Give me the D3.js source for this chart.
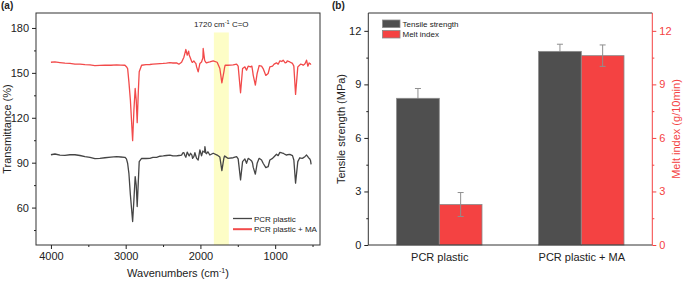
<!DOCTYPE html>
<html><head><meta charset="utf-8">
<script src="https://cdn.jsdelivr.net/npm/d3@7/dist/d3.min.js"></script>
<style>
body{margin:0;background:#fff;}
svg{display:block;font-family:"Liberation Sans",Arial,sans-serif;}
</style></head>
<body><svg id="c" width="685" height="281"></svg>
<script>
// ---------- Panel (a) data: FTIR spectra ----------
const wavenumbers = [4000,3947,3880,3813,3746,3679,3612,3545,3478,3412,3345,3278,3198,3121,3064,3010,2990,2974,2957,2937,2907,2890,2873,2859,2846,2830,2819,2787,2729,2676,2636,2586,2542,2498,2455,2409,2368,2319,2288,2252,2235,2221,2208,2195,2177,2158,2150,2132,2114,2105,2088,2074,2061,2051,2030,2007,1985,1967,1963,1944,1940,1927,1918,1900,1874,1829,1776,1740,1713,1686,1677,1669,1633,1562,1516,1495,1463,1436,1405,1383,1361,1329,1312,1302,1294,1265,1241,1214,1182,1161,1125,1094,1071,1035,1014,982,960,937,911,893,866,848,840,804,768,750,727,697,670,661,634,626,603,599,580,563,554,546,536,527,519];
const pcrPlastic = [95.3,95.8,95.1,94.9,95.3,95.3,94.8,94.0,93.5,92.7,92.9,93.3,93.7,94.0,93.8,93.6,92.5,89.6,82.9,68.5,50.7,65.1,80.7,75.1,60.7,78.5,90.7,92.9,92.8,92.9,93.5,93.6,94.3,94.5,94.8,95.1,94.5,94.5,94.8,95.1,96.5,96.7,94.8,93.6,97.1,95.2,94.5,96.3,95.0,92.9,94.0,96.7,94.5,92.9,91.8,98.5,94.5,97.8,97.5,97.0,100.7,96.3,96.0,97.3,95.1,96.3,95.1,93.8,84.7,93.0,94.5,94.2,92.9,93.3,94.0,92.5,78.5,90.7,92.5,89.6,92.9,91.8,91.0,89.6,87.0,82.3,89.6,92.9,91.8,89.6,86.7,87.3,91.8,92.9,94.0,95.6,94.7,96.9,96.5,96.3,95.5,95.1,95.3,95.6,94.7,91.8,76.3,90.7,93.3,93.0,92.9,93.2,94.0,94.2,95.1,94.0,93.3,93.0,92.5,91.5,88.9];
const pcrPlasticMA = [157.1,157.3,156.9,156.5,156.4,155.8,155.9,155.5,155.3,154.9,155.0,155.1,155.1,155.3,155.2,155.1,154.1,152.9,144.0,131.8,104.7,125.0,139.6,131.8,116.7,138.5,150.7,155.1,155.5,155.6,155.8,156.0,156.2,156.3,156.5,156.8,156.6,156.7,155.8,157.1,159.0,160.5,163.0,165.6,161.8,164.5,162.0,159.6,157.3,157.0,158.0,157.0,156.3,154.0,150.7,156.3,157.3,160.0,166.3,158.5,158.0,157.0,156.7,157.0,157.3,158.0,157.1,152.9,143.3,150.7,153.5,155.1,155.1,155.3,155.8,154.5,136.7,152.9,154.0,151.8,154.5,154.0,154.5,151.5,148.5,141.8,149.6,154.9,154.5,152.9,148.3,149.6,154.0,154.5,155.8,156.7,155.8,158.0,157.6,158.5,156.7,157.0,158.0,157.3,156.3,154.5,135.6,154.0,155.3,155.8,155.5,155.1,156.0,156.3,158.5,154.5,155.5,156.7,156.2,155.8,156.0];
const seriesNames = ["PCR plastic","PCR plastic + MA"];
const xTicksA = [4000,3000,2000,1000];
const yTicksA = [60,90,120,150,180];
const bandRange = [1820,1620];   // highlighted C=O region (cm-1)
const bandTop = 177;
// ---------- Panel (b) data ----------
const samples = ["PCR plastic","PCR plastic + MA"];
const tensileStrength = [8.22,10.85];
const tensileErr = [0.55,0.40];
const meltIndex = [2.27,10.61];
const meltErr = [0.67,0.60];
const yTicksB = [0,3,6,9,12];

const svg = d3.select("#c");
const FONT = 11;
const DARK = "#454545", RED = "#f24a4a", BAR_DARK = "#4f4f4f", BAR_RED = "#f44242";

// ===== Panel (a) =====
const L = {l:36, r:320, t:13, b:245};
const xA = d3.scaleLinear().domain([4200,400]).range([L.l,L.r]);
const yA = d3.scaleLinear().domain([35,190]).range([L.b,L.t]);

svg.append("rect").attr("x",xA(bandRange[0])).attr("y",yA(bandTop))
  .attr("width",xA(bandRange[1])-xA(bandRange[0])).attr("height",L.b-yA(bandTop))
  .attr("fill","#fdfdc6");

const line = d3.line().x((d,i)=>xA(wavenumbers[i])).y(d=>yA(d));
svg.append("path").datum(pcrPlastic).attr("d",line).attr("fill","none").attr("stroke",DARK).attr("stroke-width",1.3).attr("stroke-linejoin","round");
svg.append("path").datum(pcrPlasticMA).attr("d",line).attr("fill","none").attr("stroke",RED).attr("stroke-width",1.3).attr("stroke-linejoin","round");

svg.append("rect").attr("x",L.l).attr("y",L.t).attr("width",L.r-L.l).attr("height",L.b-L.t).attr("fill","none").attr("stroke","#333").attr("stroke-width",1);

function styleAxis(g,color){
  g.select(".domain").remove();
  g.selectAll(".tick line").attr("stroke",color);
  g.selectAll(".tick text").attr("fill",color).attr("font-size",FONT).attr("font-family","Liberation Sans, Arial, sans-serif");
}
const gxA = svg.append("g").attr("transform",`translate(0,${L.b})`)
  .call(d3.axisBottom(xA).tickValues(xTicksA).tickSize(4).tickPadding(3).tickFormat(d3.format("d")));
styleAxis(gxA,"#222");
svg.append("g").attr("transform",`translate(0,${L.b})`)
  .call(d3.axisBottom(xA).tickValues(d3.range(3500,400,-1000)).tickSize(2).tickFormat(""))
  .call(g=>{g.select(".domain").remove();g.selectAll("line").attr("stroke","#222");});
const gyA = svg.append("g").attr("transform",`translate(${L.l},0)`)
  .call(d3.axisLeft(yA).tickValues(yTicksA).tickSize(4).tickPadding(3));
styleAxis(gyA,"#222");
svg.append("g").attr("transform",`translate(${L.l},0)`)
  .call(d3.axisLeft(yA).tickValues([45,75,105,135,165]).tickSize(2).tickFormat(""))
  .call(g=>{g.select(".domain").remove();g.selectAll("line").attr("stroke","#222");});

const xt = svg.append("text").attr("x",(L.l+L.r)/2).attr("y",277).attr("text-anchor","middle").attr("font-size",FONT).attr("fill","#222");
xt.append("tspan").text("Wavenumbers (cm");
xt.append("tspan").text("-1").attr("font-size",7).attr("dy",-4);
xt.append("tspan").text(")").attr("dy",4);
svg.append("text").attr("transform",`translate(11,${(L.t+L.b)/2}) rotate(-90)`).attr("text-anchor","middle").attr("font-size",FONT).attr("fill","#222").text("Transmittance (%)");
svg.append("text").attr("x",1).attr("y",9).attr("font-size",10).attr("font-weight","bold").attr("fill","#222").text("(a)");

const an = svg.append("text").attr("x",(xA(bandRange[0])+xA(bandRange[1]))/2).attr("y",27).attr("text-anchor","middle").attr("font-size",8).attr("fill","#222");
an.append("tspan").text("1720 cm");
an.append("tspan").text("-1").attr("font-size",5.5).attr("dy",-3);
an.append("tspan").text(" C=O").attr("dy",3);

[[DARK,seriesNames[0]],[RED,seriesNames[1]]].forEach((d,i)=>{
  const y = 218.5 + i*10.7;
  svg.append("line").attr("x1",233).attr("x2",252).attr("y1",y).attr("y2",y).attr("stroke",d[0]).attr("stroke-width",i?2:1.3);
  svg.append("text").attr("x",254).attr("y",y+3).attr("font-size",8).attr("fill","#222").text(d[1]);
});

// ===== Panel (b) =====
const R = {l:368.3, r:652.3, t:13, b:245};
const xB = d3.scalePoint().domain(samples).range([R.l,R.r]).padding(0.5);
const yB = d3.scaleLinear().domain([0,13]).range([R.b,R.t]);
const yB2 = d3.scaleLinear().domain([0,13]).range([R.b,R.t]);
const bw = 42.7;

const groups = [
  {vals:tensileStrength, err:tensileErr, color:BAR_DARK, off:-bw, scale:yB},
  {vals:meltIndex, err:meltErr, color:BAR_RED, off:0, scale:yB2}
];
function drawErr(gp){
  samples.forEach((s,i)=>{
    const cx = xB(s)+gp.off+bw/2, v = gp.vals[i], e = gp.err[i], ys = gp.scale;
    const g = svg.append("g").attr("stroke","#8f8f8f").attr("stroke-width",1);
    g.append("line").attr("x1",cx).attr("x2",cx).attr("y1",ys(v+e)).attr("y2",ys(v-e));
    g.append("line").attr("x1",cx-3).attr("x2",cx+3).attr("y1",ys(v+e)).attr("y2",ys(v+e));
    g.append("line").attr("x1",cx-3).attr("x2",cx+3).attr("y1",ys(v-e)).attr("y2",ys(v-e));
  });
}
function drawBars(gp){
  samples.forEach((s,i)=>{
    const x0 = xB(s)+gp.off, v = gp.vals[i], ys = gp.scale;
    svg.append("rect").attr("x",x0).attr("y",ys(v)).attr("width",bw).attr("height",ys(0)-ys(v))
      .attr("fill",gp.color).attr("stroke","#8a8a8a").attr("stroke-width",0.8);
  });
}
drawErr(groups[0]); drawBars(groups[0]);
drawBars(groups[1]); drawErr(groups[1]);

svg.append("line").attr("x1",R.l).attr("x2",R.r).attr("y1",R.t).attr("y2",R.t).attr("stroke","#333");
svg.append("line").attr("x1",R.l).attr("x2",R.r).attr("y1",R.b).attr("y2",R.b).attr("stroke","#333");
svg.append("line").attr("x1",R.l).attr("x2",R.l).attr("y1",R.t).attr("y2",R.b).attr("stroke","#333");
svg.append("line").attr("x1",R.r).attr("x2",R.r).attr("y1",R.t).attr("y2",R.b).attr("stroke","#f44242");

const gyB = svg.append("g").attr("transform",`translate(${R.l},0)`)
  .call(d3.axisLeft(yB).tickValues(yTicksB).tickSize(4).tickPadding(3));
styleAxis(gyB,"#222");
svg.append("g").attr("transform",`translate(${R.l},0)`)
  .call(d3.axisLeft(yB).tickValues([1.5,4.5,7.5,10.5]).tickSize(2).tickFormat(""))
  .call(g=>{g.select(".domain").remove();g.selectAll("line").attr("stroke","#222");});
const gyB2 = svg.append("g").attr("transform",`translate(${R.r},0)`)
  .call(d3.axisRight(yB2).tickValues(yTicksB).tickSize(4).tickPadding(3));
styleAxis(gyB2,"#f44242");
svg.append("g").attr("transform",`translate(${R.r},0)`)
  .call(d3.axisRight(yB2).tickValues([1.5,4.5,7.5,10.5]).tickSize(2).tickFormat(""))
  .call(g=>{g.select(".domain").remove();g.selectAll("line").attr("stroke","#f44242");});
const gxB = svg.append("g").attr("transform",`translate(0,${R.b})`)
  .call(d3.axisBottom(xB).tickSize(0).tickPadding(8));
styleAxis(gxB,"#222");

svg.append("text").attr("transform",`translate(345,${(R.t+R.b)/2}) rotate(-90)`).attr("text-anchor","middle").attr("font-size",FONT).attr("fill","#222").text("Tensile strength (MPa)");
svg.append("text").attr("transform",`translate(680,${(R.t+R.b)/2}) rotate(-90)`).attr("text-anchor","middle").attr("font-size",FONT).attr("fill","#f44242").text("Melt index (g/10min)");
svg.append("text").attr("x",332).attr("y",9).attr("font-size",10).attr("font-weight","bold").attr("fill","#222").text("(b)");

[[BAR_DARK,"Tensile strength"],[BAR_RED,"Melt index"]].forEach((d,i)=>{
  const y = 20 + i*10.5;
  svg.append("rect").attr("x",382.5).attr("y",y).attr("width",17.5).attr("height",7.5).attr("fill",d[0]).attr("stroke","#8a8a8a").attr("stroke-width",0.8);
  svg.append("text").attr("x",402.5).attr("y",y+6.5).attr("font-size",8).attr("fill","#222").text(d[1]);
});
</script></body></html>
